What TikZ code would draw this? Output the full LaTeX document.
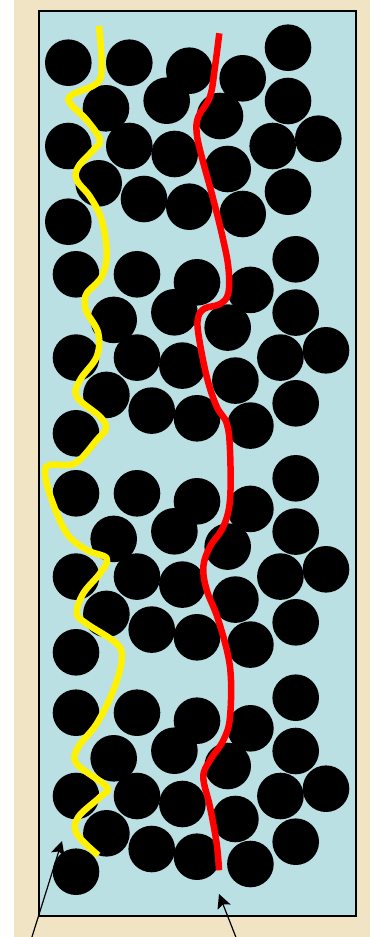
\documentclass[tikz,border=0pt]{standalone}
\usetikzlibrary{arrows.meta}
\definecolor{parchment}{RGB}{240,228,197}
\definecolor{porefill}{RGB}{186,224,228}
\begin{document}
\begin{tikzpicture}[x=1pt,y=-1pt,
    grain/.style={fill=black},
    pathline/.style={line width=6.5pt,line cap=butt,line join=round},
    pointer/.style={line width=1.2pt,-{Stealth[length=14pt,width=14pt,inset=3pt]}}]
    \useasboundingbox (0,0) rectangle (370,937);
    \fill[parchment] (14,0) rectangle (370,937);
    \draw[line width=2pt,fill=porefill] (38.5,10.5) rectangle (356,916);

    % particles: one block, repeated down the column
    \foreach \dx/\dy in {0/0,7.7/211.6,7.7/430.6,7.7/650}{
        \foreach \px/\py in {68.3/62.7,129.3/62.7,189.3/70.7,242.7/78.3,288/47.7,
                             106/108.3,166.7/100.7,220/116,288/101,
                             68.3/146,129.3/146,174.7/154,227.7/169,272.7/146,318.3/138.7,
                             98.7/183.3,144/199,189.3/206.7,242.7/214,288/191.7,68.3/221.7}
            \fill[grain] (\px+\dx,\py+\dy) circle (23.3pt);
    }

    % the two paths through the pores
    \draw[pathline,yellow] plot[smooth,tension=0.6] coordinates {
        (99,26) (101.7,66.7) (96.7,83.3) (71.7,95) (70,103.3) (86.7,120) (100,140)
        (93.3,150) (78.3,166.7) (76.7,180) (90,196.7) (101.7,220) (106.7,253.3)
        (101.7,276.7) (86.7,293.3) (85,305) (87.3,313.3) (98.3,333.3) (96.7,356.7)
        (80,380) (76.7,396.7) (100,416.7) (106,428.3) (96.7,440) (75,463.3) (50,465)
        (45,473.3) (51.7,500) (66.7,533.3) (86.7,550) (106.7,558.3) (100,573.3)
        (83.3,593.3) (76.7,613.3) (86.7,623.7) (116.7,643.7) (121.7,660) (113.3,690.3)
        (96.7,723.7) (78.3,747) (76.7,763.7) (106.7,787) (100,797) (78.3,817)
        (76.7,833.7) (98.3,855.3)};
    \draw[pathline,red] plot[smooth,tension=0.6] coordinates {
        (219.3,33.3) (215,66.7) (210,96.7) (198.3,116.7) (196.7,133.3) (201.7,156.7)
        (211.7,193.3) (221.7,233.3) (228.3,266.7) (228.3,293.3) (220,304) (205,308.3)
        (198.3,316.7) (198.3,333.3) (206.7,376.7) (216.7,406.7) (226.7,423.3) (230,450)
        (230,500) (223.3,526.7) (210,546.7) (203.3,566.7) (206.7,590) (218.3,620)
        (230,667) (230,717) (223.3,740.3) (210,760.3) (203.3,777) (210,807)
        (216.7,843.7) (219,870.3)};

    \coordinate (yellowtip) at (62,841);
    \coordinate (yellowtail) at (31,940);
    \coordinate (redtip) at (219,894);
    \coordinate (redtail) at (237,940);
    \draw[pointer] (yellowtail) -- (yellowtip);
    \draw[pointer] (redtail) -- (redtip);
\end{tikzpicture}
\end{document}
